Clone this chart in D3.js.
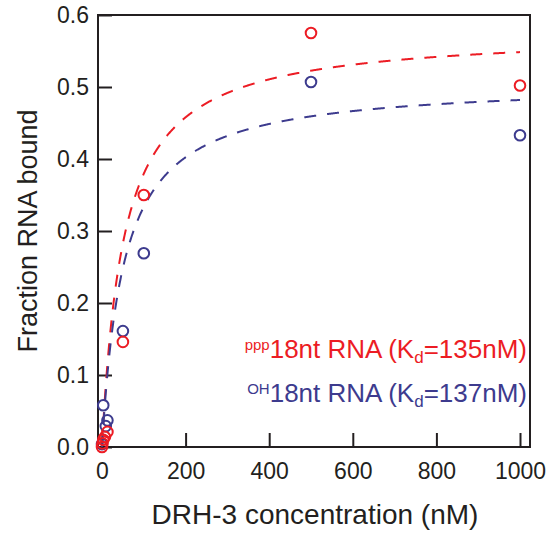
<!DOCTYPE html>
<html>
<head>
<meta charset="utf-8">
<script src="https://cdn.jsdelivr.net/npm/d3@7"></script>
<style>
  body { margin: 0; background: #fff; }
  text { font-family: "Liberation Sans", Arial, Helvetica, sans-serif; }
</style>
</head>
<body>
<svg id="chart" width="549" height="535"></svg>
<script>
// measured values (fraction bound vs DRH-3 nM)
const redConc = [0, 1, 3, 7, 13, 50, 100, 500, 1000];
const redBound = [0.0, 0.005, 0.01, 0.014, 0.021, 0.146, 0.35, 0.575, 0.502];
const blueConc = [0, 3, 9, 13, 50, 100, 500, 1000];
const blueBound = [0.004, 0.058, 0.029, 0.037, 0.161, 0.269, 0.507, 0.433];

// binding fit parameters (Bmax, K)
const redFit = [0.577, 52];
const blueFit = [0.507, 52];

const xTicks = [0, 200, 400, 600, 800, 1000];
const yTicks = [0, 0.1, 0.2, 0.3, 0.4, 0.5, 0.6];

const red = "#ec1c24";
const blue = "#3d3b8e";
const ink = "#231f20";

const svg = d3.select("#chart");

const x = d3.scaleLinear().domain([0, 1000]).range([102, 520]);
const y = d3.scaleLinear().domain([0, 0.6]).range([447, 15]);

const frameLeft = 98, frameRight = 530;

// frame
svg.append("rect")
    .attr("x", frameLeft)
    .attr("y", y(0.6))
    .attr("width", frameRight - frameLeft)
    .attr("height", y(0) - y(0.6))
    .attr("fill", "none")
    .attr("stroke", ink)
    .attr("stroke-width", 2);

// axes
const xAxis = svg.append("g")
    .attr("transform", `translate(0,${y(0)})`)
    .call(d3.axisBottom(x).tickValues(xTicks).tickFormat(d3.format("d")).tickSizeInner(-14).tickSizeOuter(0).tickPadding(16));
const yAxis = svg.append("g")
    .attr("transform", `translate(${frameLeft},0)`)
    .call(d3.axisLeft(y).tickValues(yTicks).tickFormat(d3.format(".1f")).tickSizeInner(-14).tickSizeOuter(0).tickPadding(9));

[xAxis, yAxis].forEach(g => {
    g.select(".domain").remove();
    g.selectAll(".tick line").attr("stroke", ink).attr("stroke-width", 2);
    g.selectAll(".tick text")
        .attr("fill", ink)
        .style("font-size", "23px");
});

// axis titles
svg.append("text")
    .attr("x", 315)
    .attr("y", 524)
    .attr("text-anchor", "middle")
    .attr("fill", ink)
    .style("font-size", "28px")
    .text("DRH-3 concentration (nM)");

svg.append("text")
    .attr("transform", `translate(37,${(y(0) + y(0.6)) / 2}) rotate(-90)`)
    .attr("text-anchor", "middle")
    .attr("fill", ink)
    .style("font-size", "27px")
    .text("Fraction RNA bound");

// fit curves
const xs = d3.range(0, 1000.5, 1);
function fitLine(p) {
    return d3.line()
        .x(d => x(d))
        .y(d => y(p[0] * d / (p[1] + d)))(xs);
}

svg.append("path")
    .attr("d", fitLine(redFit))
    .attr("fill", "none")
    .attr("stroke", red)
    .attr("stroke-width", 2)
    .attr("stroke-dasharray", "12,11");

svg.append("path")
    .attr("d", fitLine(blueFit))
    .attr("fill", "none")
    .attr("stroke", blue)
    .attr("stroke-width", 2)
    .attr("stroke-dasharray", "12,11");

// points
function points(conc, vals, color) {
    svg.append("g").selectAll("circle")
        .data(conc.map((c, i) => [c, vals[i]]))
        .join("circle")
        .attr("cx", d => x(d[0]))
        .attr("cy", d => y(d[1]))
        .attr("r", 5.3)
        .attr("fill", "none")
        .attr("stroke", color)
        .attr("stroke-width", 2);
}
points(blueConc, blueBound, blue);
points(redConc, redBound, red);

// legend
function legend(yPos, color, sup, kd) {
    const t = svg.append("text")
        .attr("x", 527)
        .attr("y", yPos)
        .attr("text-anchor", "end")
        .attr("fill", color)
        .style("font-size", "26px");
    t.append("tspan").attr("dy", -8).style("font-size", "15px").text(sup);
    t.append("tspan").attr("dy", 8).text("18nt RNA (K");
    t.append("tspan").attr("dy", 5).style("font-size", "17px").text("d");
    t.append("tspan").attr("dy", -5).text(`=${kd}nM)`);
}
legend(358, red, "ppp", 135);
legend(402, blue, "OH", 137);
</script>
</body>
</html>
